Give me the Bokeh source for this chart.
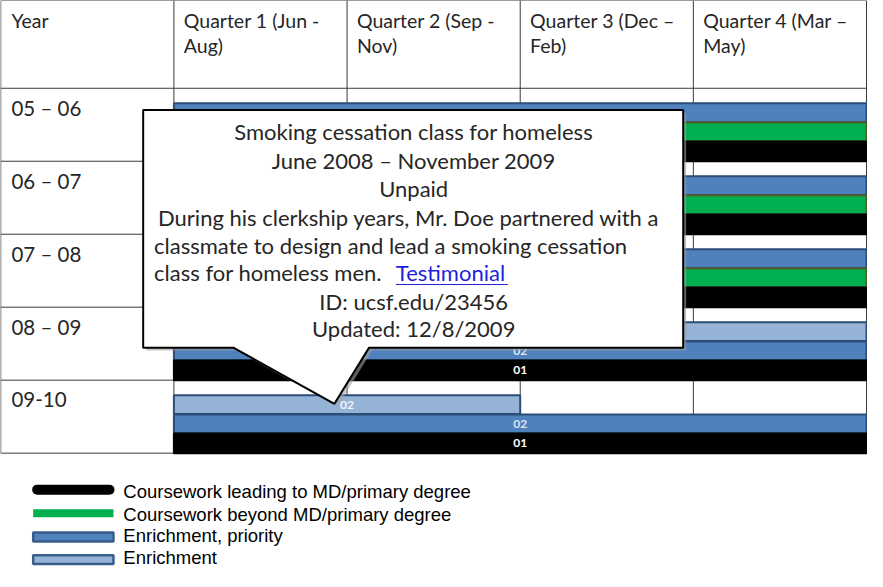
from bokeh.plotting import figure
from bokeh.models import Range1d
from bokeh.core.properties import value
from bokeh.embed import file_html
from bokeh.resources import INLINE

# ---------------- data ----------------
years = ["05 – 06", "06 – 07", "07 – 08", "08 – 09", "09-10"]
quarter_line1 = ["Quarter 1 (Jun -", "Quarter 2 (Sep -", "Quarter 3 (Dec –", "Quarter 4 (Mar –"]
quarter_line2 = ["Aug)", "Nov)", "Feb)", "May)"]

# one entry per bar: year row, band slot (0 top, 1 middle, 2 bottom), quarter span
bar_row = [0, 0, 0, 1, 1, 1, 2, 2, 2, 3, 3, 3, 4, 4, 4]
bar_slot = [0, 1, 2, 0, 1, 2, 0, 1, 2, 0, 1, 2, 0, 1, 2]
bar_start = [0, 0, 0, 0, 0, 0, 0, 0, 0, 0, 0, 0, 0, 0, 0]
bar_end = [4, 4, 4, 4, 4, 4, 4, 4, 4, 4, 4, 4, 2, 4, 4]
bar_kind = ["priority", "beyond", "md", "priority", "beyond", "md", "priority", "beyond", "md",
            "enrich", "priority", "md", "enrich", "priority", "md"]
bar_code = ["02", "", "01", "02", "", "01", "02", "", "01", "02", "02", "01", "02", "02", "01"]

legend_kinds = ["md", "beyond", "priority", "enrich"]
legend_labels = ["Coursework leading to MD/primary degree", "Coursework beyond MD/primary degree",
                 "Enrichment, priority", "Enrichment"]

callout_centered_top = ["Smoking cessation class for homeless", "June 2008 – November 2009", "Unpaid"]
callout_body = ["During his clerkship years, Mr. Doe partnered with a",
                "classmate to design and lead a smoking cessation",
                "class for homeless men."]
callout_link = "Testimonial"
callout_centered_bottom = ["ID: ucsf.edu/23456", "Updated: 12/8/2009"]

# ---------------- styles ----------------
FILL = {"md": "#000000", "beyond": "#00B050", "priority": "#4F81BD", "enrich": "#95B3D7"}
EDGE = {"md": "#000000", "beyond": "#4F6228", "priority": "#2C4D75", "enrich": "#2C4D75"}
LABEL = {"md": "#FFFFFF", "beyond": "#FFFFFF", "priority": "#DCE6F2", "enrich": "#F2F6FB"}

# layout helpers (reference pixel -> table units)
QW = 174.75   # px per quarter
RH = 74.0     # px per year row
def X(px):
    return (px - 183.0) / QW
def Y(py):
    return (py - 97.0) / RH

SLOT_C = [24.75 / RH, 44.25 / RH, 64.0 / RH]
SLOT_H = [19.0 / RH, 19.0 / RH, 20.0 / RH]

p = figure(width=867, height=571, x_range=Range1d(X(8), X(883)), y_range=Range1d(Y(587), Y(8)),
           toolbar_location=None, output_backend="svg", min_border=0)
p.xaxis.visible = False
p.yaxis.visible = False
p.xgrid.visible = False
p.ygrid.visible = False
p.outline_line_color = None
p.background_fill_color = "white"

GRID = "#3a3a3a"
header_top = Y(8)
n_rows = len(years)
n_q = len(quarter_line1)

# table grid
hy = [header_top] + list(range(n_rows + 1))
p.segment(x0=[-1] * len(hy), x1=[n_q] * len(hy), y0=hy, y1=hy, line_color=GRID, line_width=1)
vx = list(range(-1, n_q + 1))
p.segment(x0=vx, x1=vx, y0=[header_top] * len(vx), y1=[n_rows] * len(vx), line_color=GRID, line_width=1)

TXT = "#262626"
FONT = value("Lato")
# header texts
p.text(x=[X(19)], y=[Y(28)], text=["Year"], text_font=FONT, text_font_size="19.5px",
       text_color=TXT, text_baseline="middle", text_align="left")
qx = [q + 10 / QW for q in range(n_q)]
p.text(x=qx, y=[Y(28)] * n_q, text=quarter_line1, text_font=FONT, text_font_size="19.5px",
       text_color=TXT, text_baseline="middle", text_align="left")
p.text(x=qx, y=[Y(54)] * n_q, text=quarter_line2, text_font=FONT, text_font_size="19.5px",
       text_color=TXT, text_baseline="middle", text_align="left")
# year labels
p.text(x=[X(19)] * n_rows, y=[r + 20 / RH for r in range(n_rows)], text=years, text_font=FONT,
       text_font_size="20.5px", text_color=TXT, text_baseline="middle", text_align="left")

# bars
by = [r + SLOT_C[s] for r, s in zip(bar_row, bar_slot)]
bh = [SLOT_H[s] for s in bar_slot]
p.hbar(y=by, left=bar_start, right=bar_end, height=bh,
       fill_color=[FILL[k] for k in bar_kind], line_color=[EDGE[k] for k in bar_kind], line_width=2)
bx = [(a + b) / 2 for a, b in zip(bar_start, bar_end)]
p.text(x=bx, y=by, text=bar_code, text_font=FONT, text_font_size="12px", text_font_style="bold",
       text_color=[LABEL[k] for k in bar_kind], text_baseline="middle", text_align="center")

# callout
cx_px = [152, 697, 697, 380, 345, 243, 152]
cy_px = [119, 119, 360, 360, 417, 360, 360]
p.patch(x=[X(v + 3) for v in cx_px], y=[Y(v + 3) for v in cy_px], fill_color="#A0A0A0", fill_alpha=0.6,
        line_color=None)
p.patch(x=[X(v) for v in cx_px], y=[Y(v) for v in cy_px], fill_color="white", line_color="black",
        line_width=2)
CS = "22px"
ctr = X(425)
top_y = [Y(141), Y(170), Y(199)]
p.text(x=[ctr] * 3, y=top_y, text=callout_centered_top, text_font=FONT, text_font_size=CS,
       text_color=TXT, text_baseline="middle", text_align="center")
body_y = [Y(228), Y(256), Y(284)]
p.text(x=[X(167), X(163), X(163)], y=body_y, text=callout_body, text_font=FONT,
       text_font_size=CS, text_color=TXT, text_baseline="middle", text_align="left")
p.text(x=[X(407)], y=[Y(284)], text=[callout_link], text_font=FONT, text_font_size=CS,
       text_color="#1F1FE0", text_baseline="middle", text_align="left")
p.segment(x0=[X(407)], x1=[X(520)], y0=[Y(296)], y1=[Y(296)], line_color="#1F1FE0", line_width=1.2)
p.text(x=[ctr] * 2, y=[Y(313), Y(341)], text=callout_centered_bottom, text_font=FONT,
       text_font_size=CS, text_color=TXT, text_baseline="middle", text_align="center")

# legend
ly = [504, 528, 552, 575]
ty = [506, 529, 551, 573]
for k, yy in zip(legend_kinds, ly):
    if k == "md":
        p.segment(x0=[X(45)], x1=[X(118)], y0=[Y(yy)], y1=[Y(yy)], line_color=FILL[k], line_width=10,
                  line_cap="round")
    elif k == "beyond":
        p.segment(x0=[X(41)], x1=[X(122)], y0=[Y(yy)], y1=[Y(yy)], line_color=FILL[k], line_width=8)
    else:
        p.quad(left=[X(41)], right=[X(122)], top=[Y(yy - 4.5)], bottom=[Y(yy + 4.5)], fill_color=FILL[k],
               line_color="#385D8A", line_width=2.5)
p.text(x=[X(132)] * 4, y=[Y(v) for v in ty], text=legend_labels, text_font=value("Liberation Sans"),
       text_font_size="18.5px", text_color="#000000", text_baseline="middle", text_align="left")

open("out.html", "w").write(file_html(p, INLINE))
